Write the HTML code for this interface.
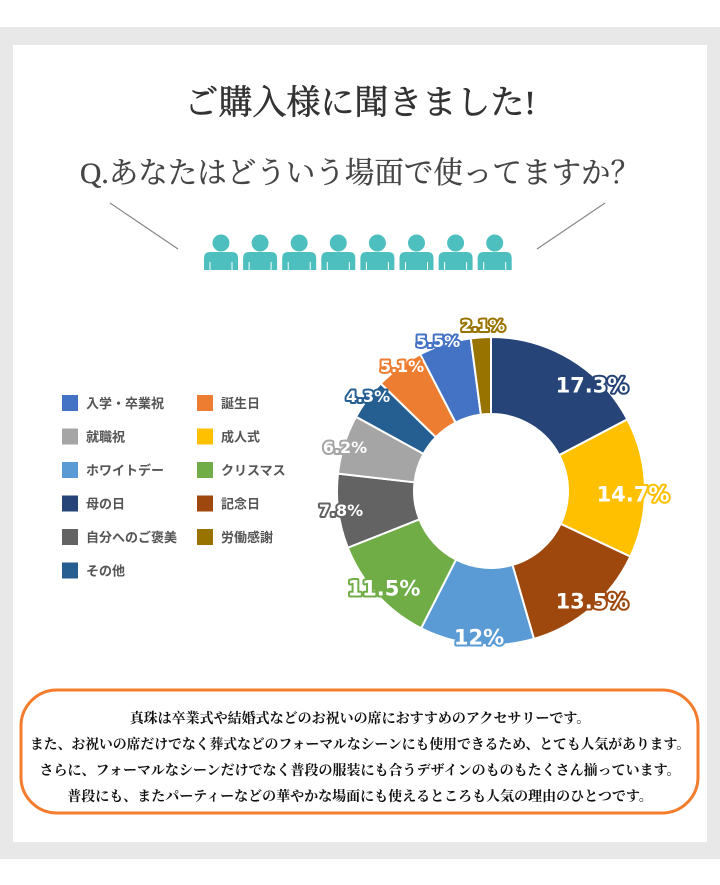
<!DOCTYPE html>
<html><head><meta charset="utf-8"><style>
html,body{margin:0;padding:0;background:#fff;}
body{width:720px;height:885px;position:relative;overflow:hidden;}
svg{position:absolute;left:0;top:0;}
.serif{font-family:"Liberation Serif","Noto Serif CJK SC",serif;}
.sans{font-family:"Liberation Sans","Noto Sans CJK JP",sans-serif;}
.lab{font-family:"DejaVu Sans","Liberation Sans",sans-serif;}
</style></head><body>
<svg id="s" width="720" height="885" viewBox="0 0 720 885" xmlns="http://www.w3.org/2000/svg">
<rect x="0" y="27" width="720" height="832" fill="#e8e8e8"/>
<rect x="13" y="45" width="694" height="797" fill="#fff"/>
<text class="serif" x="360" y="114" font-size="34" fill="#333" stroke="#333" stroke-width="0.6" text-anchor="middle">ご購入様に聞きました!</text>
<text class="serif" x="360" y="183" font-size="30" fill="#444" stroke="#444" stroke-width="0.3" text-anchor="middle" textLength="560" lengthAdjust="spacingAndGlyphs">Q.あなたはどういう場面で使ってますか？</text>
<line x1="110" y1="203" x2="178" y2="249" stroke="#888" stroke-width="1.2"/>
<line x1="605" y1="203" x2="537" y2="249" stroke="#888" stroke-width="1.2"/>
<g id="people" fill="#4dbfbe"></g>
<g id="legend" class="sans" font-size="13" font-weight="bold" fill="#555"></g>
<g id="donut"></g>
<g id="labels" class="lab" font-weight="bold" fill="#fff" stroke-width="4" stroke-linejoin="round" style="paint-order:stroke" text-anchor="middle"></g>
<rect x="21" y="690" width="677" height="123" rx="36" fill="#fff" stroke="#f47c2c" stroke-width="3"/>
<g class="serif" font-size="14" fill="#111" text-anchor="middle" font-weight="bold">
<text x="360" y="723">真珠は卒業式や結婚式などのお祝いの席におすすめのアクセサリーです。</text>
<text x="360" y="749" textLength="660" lengthAdjust="spacingAndGlyphs">また、お祝いの席だけでなく葬式などのフォーマルなシーンにも使用できるため、とても人気があります。</text>
<text x="360" y="775">さらに、フォーマルなシーンだけでなく普段の服装にも合うデザインのものもたくさん揃っています。</text>
<text x="360" y="801">普段にも、またパーティーなどの華やかな場面にも使えるところも人気の理由のひとつです。</text>
</g>
</svg>
<script>
var NS="http://www.w3.org/2000/svg";
function el(p,t,a,txt){var e=document.createElementNS(NS,t);for(var k in a)e.setAttribute(k,a[k]);if(txt)e.textContent=txt;p.appendChild(e);return e;}
var pp=document.getElementById('people');
for(var i=0;i<8;i++){var cx=221+i*39.1;
el(pp,'circle',{cx:cx,cy:243,r:8.5});
el(pp,'path',{d:'M'+(cx-17)+' 270 V258 Q'+(cx-17)+' 252 '+(cx-11)+' 252 H'+(cx+11)+' Q'+(cx+17)+' 252 '+(cx+17)+' 258 V270 Z'});
el(pp,'rect',{x:cx-11.5,y:262,width:1,height:8,fill:'#fff'});
el(pp,'rect',{x:cx+10.5,y:262,width:1,height:8,fill:'#fff'});}
var lg=document.getElementById('legend');
var L=[['入学・卒業祝','#4472c4','誕生日','#ed7d31'],['就職祝','#a5a5a5','成人式','#ffc000'],['ホワイトデー','#5b9bd5','クリスマス','#70ad47'],['母の日','#264478','記念日','#9e480e'],['自分へのご褒美','#636363','労働感謝','#997300'],['その他','#255e91']];
L.forEach(function(r,j){var y=403+j*33.5;
el(lg,'rect',{x:62,y:y-8,width:16,height:16,fill:r[1]});el(lg,'text',{x:86,y:y+5},r[0]);
if(r[2]){el(lg,'rect',{x:197,y:y-8,width:16,height:16,fill:r[3]});el(lg,'text',{x:221,y:y+5},r[2]);}});
var D=[[17.3,'#264478',592,385,21],[14.7,'#ffc000',633,494,21],[13.5,'#9e480e',592,601,21],[12,'#5b9bd5',479,637,21,'12%'],[11.5,'#70ad47',384,588,21],[7.8,'#636363',341,510,16],[6.2,'#a5a5a5',345,447,16],[4.3,'#255e91',368,396,16],[5.1,'#ed7d31',402,366,16],[5.5,'#4472c4',438,341,16],[2.1,'#997300',483,325,16]];
var dn=document.getElementById('donut'),lb=document.getElementById('labels');
var cx=491,cy=491,R=154,r=77,a=0;
D.forEach(function(d){var a1=a+d[0]/100*2*Math.PI;
function P(rr,t){return (cx+rr*Math.sin(t)).toFixed(2)+' '+(cy-rr*Math.cos(t)).toFixed(2);}
var lf=(a1-a)>Math.PI?1:0;
el(dn,'path',{d:'M'+P(R,a)+' A'+R+' '+R+' 0 '+lf+' 1 '+P(R,a1)+' L'+P(r,a1)+' A'+r+' '+r+' 0 '+lf+' 0 '+P(r,a)+' Z',fill:d[1],stroke:'#fff','stroke-width':2});
a=a1;
el(lb,'text',{x:d[2],y:d[3]+d[4]*0.36,'font-size':d[4],stroke:d[1]},d[5]||(d[0]+'%'));});
</script>
</body></html>
